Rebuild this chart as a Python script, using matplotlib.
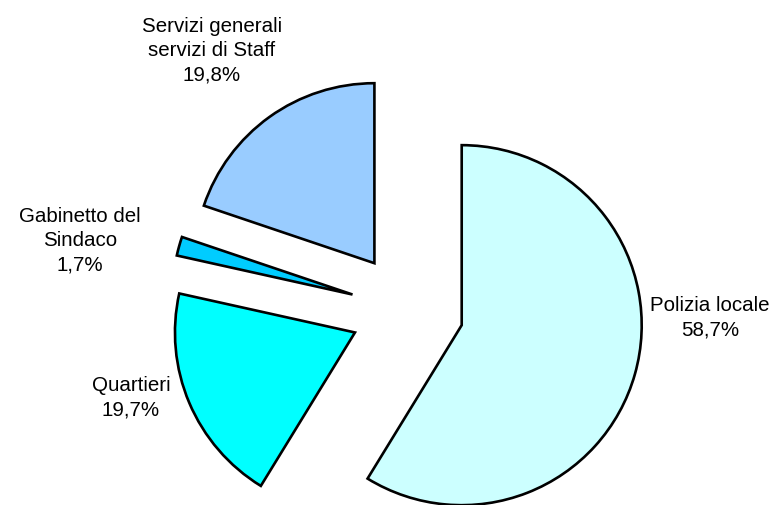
import matplotlib.pyplot as plt

# Data
labels = ["Polizia locale", "Quartieri", "Gabinetto del\nSindaco", "Servizi generali\nservizi di Staff"]
values = [58.7, 19.7, 1.7, 19.8]
colors = ["#CCFFFF", "#00FFFF", "#00CCFF", "#99CCFF"]
explode = [0.31, 0.32, 0.32, 0.32]

# label centres in pixel coords (y from bottom)
label_pos = [(710, 187), (131, 107), (80, 264), (212, 454)]

plt.rcParams["font.family"] = ["Liberation Sans", "DejaVu Sans"]

R = 180  # pie radius in pixels

fig = plt.figure(figsize=(7.78, 5.05), dpi=100)
ax = fig.add_axes([0, 0, 1, 1])

texts = [f"{l}\n{v:.1f}%".replace(".", ",") for l, v in zip(labels, values)]

# pie's explode is in data units, so scale by the radius
wedges, txts = ax.pie(
    values,
    labels=texts,
    colors=colors,
    explode=[e * R for e in explode],
    startangle=90,
    counterclock=False,
    radius=R,
    center=(408, 195),
    wedgeprops=dict(edgecolor="black", linewidth=1.9, joinstyle="miter"),
    textprops=dict(fontsize=14.8, linespacing=1.35),
)

for t, (x, y) in zip(txts, label_pos):
    t.set_position((x, y))
    t.set_ha("center")
    t.set_va("center")

ax.set_xlim(0, 778)
ax.set_ylim(0, 505)
ax.set_aspect("equal")
ax.axis("off")

fig.savefig("out.png", dpi=100)
